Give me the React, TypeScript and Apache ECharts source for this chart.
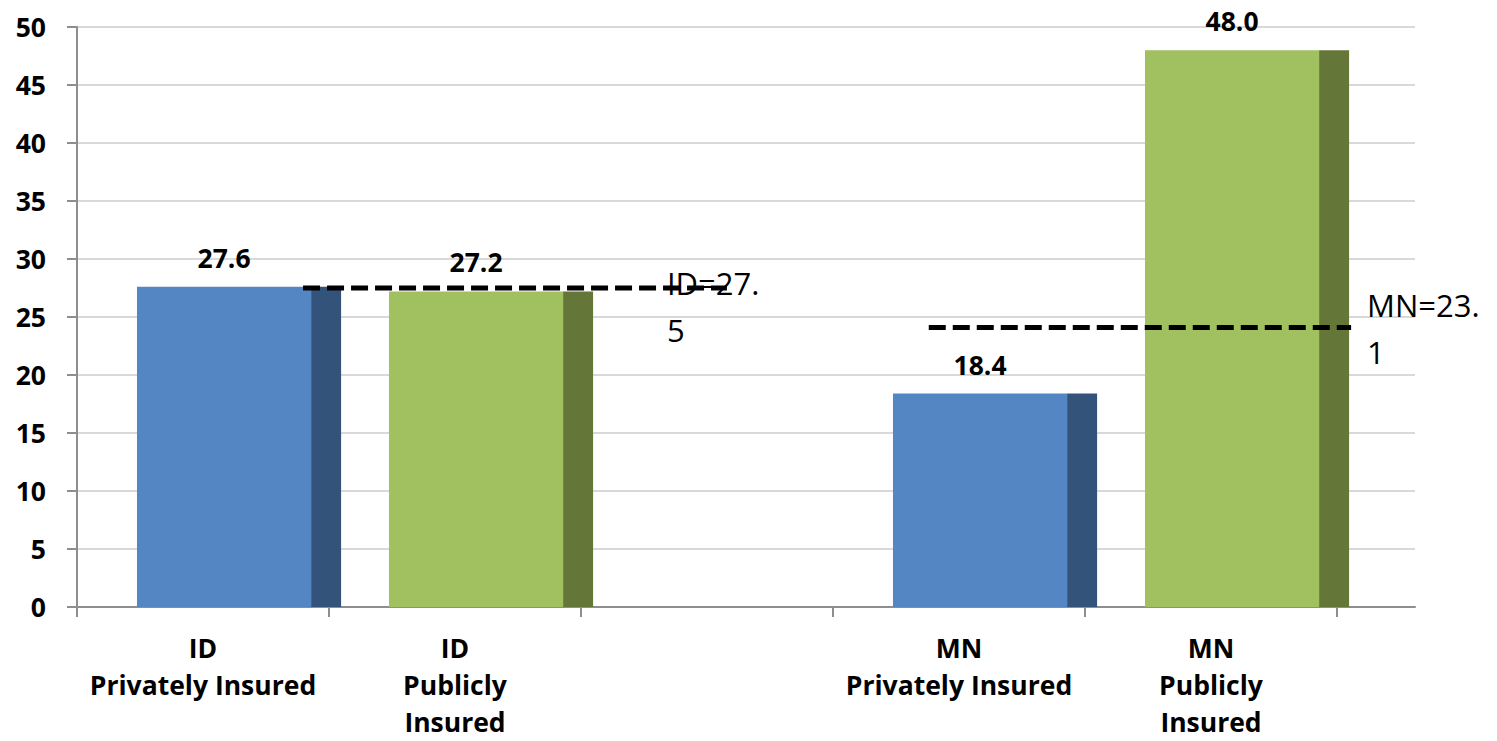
import React, { useEffect, useRef } from "react";
import * as echarts from "echarts";

// ---- data ----
const categories = [
  "ID\nPrivately Insured",
  "ID\nPublicly\nInsured",
  "",
  "MN\nPrivately Insured",
  "MN\nPublicly\nInsured",
];
const rateValues: (number | null)[] = [27.6, 27.2, null, 18.4, 48.0];
const insuranceType = ["private", "public", "", "private", "public"];
const yTicks = [0, 5, 10, 15, 20, 25, 30, 35, 40, 45, 50];

const refLabels = ["ID=27.\n5", "MN=23.\n1"];
const refLevels = [27.5, 24.1]; // level at which each dashed line is drawn

const FONT = "'Open Sans', sans-serif";

const faceColors: Record<string, [string, string]> = {
  private: ["#5586C4", "#34537A"],
  public: ["#A1C05F", "#647739"],
};

// layout of reference lines in category-band units (from start of first band)
const refSpans: [number, number][] = [
  [0.897, 2.579],
  [3.38, 5.056],
];
const refLabelOffsets: [number, number][] = [
  [-60, -5],
  [16, -22],
];

export default function App() {
  const ref = useRef<HTMLDivElement>(null);
  useEffect(() => {
    if (!ref.current) return;
    const chart = echarts.init(ref.current, undefined, { renderer: "svg" });
    const barData = rateValues
      .map((v, i) => (v == null ? null : [i, v]))
      .filter((d) => d != null);

    const option: any = {
      animation: false,
      backgroundColor: "#ffffff",
      grid: [
        { left: 77, right: 82, top: 27, bottom: 134, containLabel: false, outerBoundsMode: "none" },
        { left: 77, right: 160, top: 27, bottom: 134, containLabel: false, outerBoundsMode: "none" },
      ],
      xAxis: [
        {
          gridIndex: 0,
          type: "value",
          min: 0,
          max: 1,
          axisLine: { show: true, onZero: false, lineStyle: { color: "#8e8e8e", width: 2 } },
          axisTick: { show: false },
          axisLabel: { show: false },
          splitLine: { show: false },
        },
        {
          gridIndex: 1,
          type: "category",
          data: categories,
          boundaryGap: true,
          axisLine: { show: false },
          axisTick: {
            show: true,
            length: 10,
            interval: 0,
            lineStyle: { color: "#8e8e8e", width: 2 },
          },
          axisLabel: {
            interval: 0,
            margin: 22,
            color: "#000",
            fontFamily: FONT,
            fontWeight: "bold",
            fontSize: 26.5,
            lineHeight: 37,
          },
        },
      ],
      yAxis: [
        {
          gridIndex: 0,
          type: "value",
          min: 0,
          max: 50,
          interval: 5,
          axisLine: { show: true, lineStyle: { color: "#8e8e8e", width: 2 } },
          axisTick: { show: true, length: 10, lineStyle: { color: "#8e8e8e", width: 2 } },
          axisLabel: {
            margin: 31,
            color: "#000",
            fontFamily: FONT,
            fontWeight: "bold",
            fontSize: 26.5,
            formatter: (v: number) => (yTicks.includes(v) ? String(v) : ""),
          },
          splitLine: { show: true, lineStyle: { color: "#d9d9d9", width: 2 } },
        },
        {
          gridIndex: 1,
          type: "value",
          min: 0,
          max: 50,
          interval: 5,
          show: false,
        },
      ],
      series: [
        {
          type: "custom",
          xAxisIndex: 1,
          yAxisIndex: 1,
          clip: false,
          data: barData,
          renderItem: (params: any, api: any) => {
            const idx = api.value(0);
            const val = api.value(1);
            const base = api.coord([idx, 0]);
            const top = api.coord([idx, val]);
            const bandW = api.size([1, 0])[0];
            const start = base[0] - bandW / 2;
            const f0 = start + 0.238 * bandW;
            const f1 = start + 0.929 * bandW;
            const s1 = start + 1.048 * bandW;
            const cols = faceColors[insuranceType[idx]];
            return {
              type: "group",
              children: [
                {
                  type: "rect",
                  shape: { x: f0, y: top[1], width: f1 - f0, height: base[1] - top[1] },
                  style: { fill: cols[0] },
                },
                {
                  type: "rect",
                  shape: { x: f1, y: top[1], width: s1 - f1, height: base[1] - top[1] },
                  style: { fill: cols[1] },
                },
                {
                  type: "text",
                  style: {
                    text: val.toFixed(1),
                    x: (f0 + f1) / 2,
                    y: top[1] - 29,
                    textAlign: "center",
                    textVerticalAlign: "middle",
                    align: "center",
                    verticalAlign: "middle",
                    fill: "#000",
                    fontFamily: FONT,
                    fontWeight: "bold",
                    fontSize: 26.5,
                  },
                },
              ],
            };
          },
          z: 3,
        },
        {
          type: "custom",
          xAxisIndex: 1,
          yAxisIndex: 1,
          clip: false,
          data: refLevels.map((v, i) => [i, v]),
          renderItem: (params: any, api: any) => {
            const i = params.dataIndex;
            const v = api.value(1);
            const p = api.coord([0, v]);
            const bandW = api.size([1, 0])[0];
            const start = p[0] - bandW / 2;
            const x0 = start + refSpans[i][0] * bandW;
            const x1 = start + refSpans[i][1] * bandW;
            const off = refLabelOffsets[i];
            return {
              type: "group",
              children: [
                {
                  type: "line",
                  shape: { x1: x0, y1: p[1], x2: x1, y2: p[1] },
                  style: { stroke: "#000", lineWidth: 5, lineDash: [17, 7] },
                },
                {
                  type: "text",
                  style: {
                    text: refLabels[i],
                    x: x1 + off[0],
                    y: p[1] + off[1] - 24,
                    textAlign: "left",
                    textVerticalAlign: "top",
                    align: "left",
                    verticalAlign: "top",
                    lineHeight: 47,
                    fill: "#000",
                    fontFamily: FONT,
                    fontSize: 31,
                  },
                },
              ],
            };
          },
          z: 5,
        },
      ],
    };
    chart.setOption(option);
    return () => chart.dispose();
  }, []);

  return (
    <div
      ref={ref}
      style={{ position: "absolute", left: 0, top: 0, width: 1497, height: 741, background: "#fff" }}
    />
  );
}
